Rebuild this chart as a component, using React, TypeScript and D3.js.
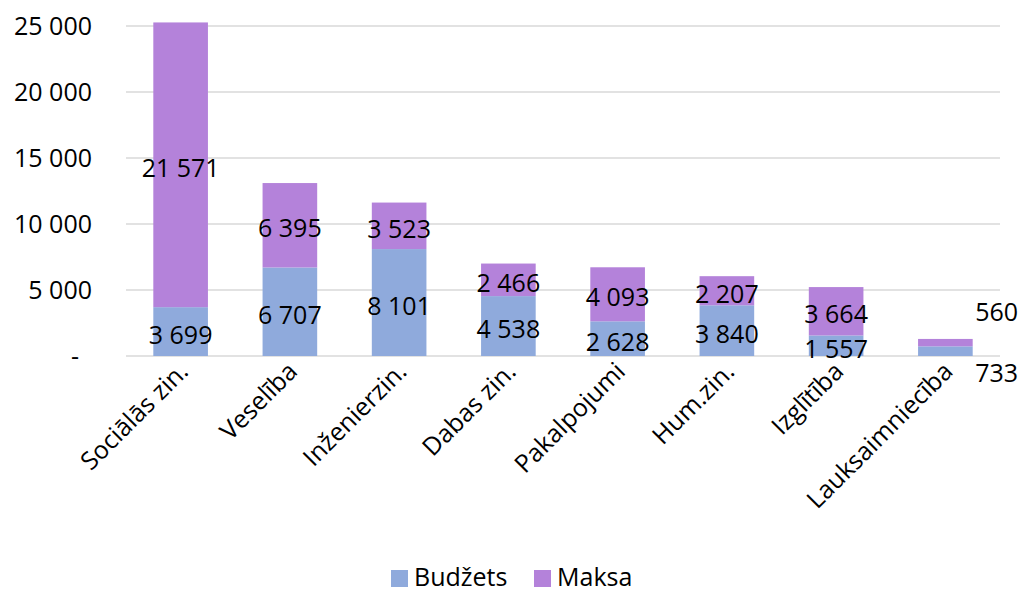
import React from "react";
import * as d3 from "d3";

const categories = ["Sociālās zin.", "Veselība", "Inženierzin.", "Dabas zin.", "Pakalpojumi", "Hum.zin.", "Izglītība", "Lauksaimniecība"];
const budzets = [3699, 6707, 8101, 4538, 2628, 3840, 1557, 733];
const maksa = [21571, 6395, 3523, 2466, 4093, 2207, 3664, 560];
const yTicks = [0, 5000, 10000, 15000, 20000, 25000];
const seriesNames = ["Budžets", "Maksa"];
const colors = ["#8FAADC", "#B482DA"];

const W = 1022, H = 592;
const FONT = "'Open Sans', sans-serif";
const FS = 25;
const fmt = (v: number) => d3.format(",")(v).replace(/,/g, " ");

export default function App() {
  const x = d3.scaleBand<string>().domain(categories).range([126, 1000]).paddingInner(0.5).paddingOuter(0.25);
  const y = d3.scaleLinear().domain([0, 25000]).range([356, 26]);
  const bw = x.bandwidth();
  const rows = categories.map((c, i) => ({ c, b: budzets[i], m: maksa[i] }));
  const stack = d3.stack<any>().keys(["b", "m"])(rows);

  return (
    <svg width={W} height={H} style={{ position: "absolute", left: 0, top: 0, background: "#fff" }} fontFamily={FONT}>
      {yTicks.map((t) => (
        <g key={t}>
          <line x1={126} x2={1000} y1={y(t)} y2={y(t)} stroke="#d9d9d9" strokeWidth={1.5} />
          <text x={t === 0 ? 79 : 92} y={y(t)} dy="0.36em" textAnchor="end" fontSize={FS} fill="#000">
            {t === 0 ? "-" : fmt(t)}
          </text>
        </g>
      ))}
      {stack.map((s, si) => (
        <g key={si}>
          {s.map((d, i) => (
            <rect key={i} x={x(categories[i])!} width={bw} y={y(d[1])} height={y(d[0]) - y(d[1])} fill={colors[si]} />
          ))}
        </g>
      ))}
      {stack.map((s, si) => (
        <g key={"l" + si}>
          {s.map((d, i) => {
            const cx = x(categories[i])! + bw / 2;
            const v = d[1] - d[0];
            const small = y(d[0]) - y(d[1]) < 20;
            let lx = cx, ly = y((d[0] + d[1]) / 2) + 3;
            if (small) {
              lx = cx + bw / 2 + 24;
              ly = si === 0 ? y(0) + 17 : y(0) - 44;
            }
            return (
              <text key={i} x={lx} y={ly} dy="0.36em" textAnchor="middle" fontSize={FS} fill="#000">
                {fmt(v)}
              </text>
            );
          })}
        </g>
      ))}
      {categories.map((c) => {
        const cx = x(c)! + bw / 2;
        return (
          <text key={c} transform={`translate(${cx + 9},${373}) rotate(-45)`} textAnchor="end" fontSize={FS} fill="#000">
            {c}
          </text>
        );
      })}
      <g>
        {seriesNames.map((n, i) => {
          const lx = i === 0 ? 391 : 534;
          return (
            <g key={n}>
              <rect x={lx} y={570} width={17} height={17} fill={colors[i]} />
              <text x={lx + 23} y={577} dy="0.36em" fontSize={FS} fill="#000">{n}</text>
            </g>
          );
        })}
      </g>
    </svg>
  );
}
